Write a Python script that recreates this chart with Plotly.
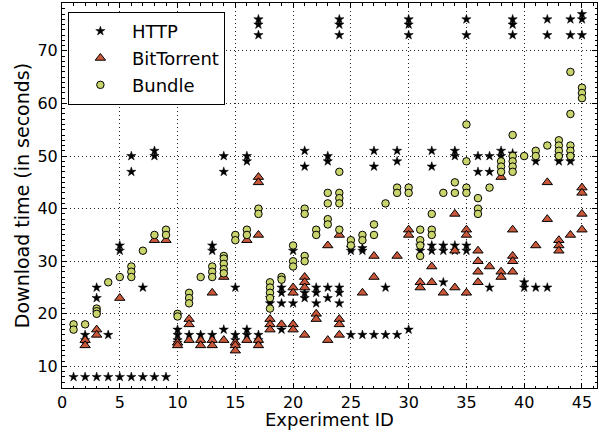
import plotly.graph_objects as go

experiments = list(range(1, 46))

http_times = [
    [8], [16, 15, 8], [25, 23, 8], [16, 8], [33, 32, 8], [50, 47, 8], [25, 8], [51, 50, 8], [8],
    [17, 16, 15, 14.5], [16], [16], [33, 32, 16], [50, 47, 17], [25, 16, 15], [50, 49, 17, 16],
    [76, 75, 73, 16, 15], [23, 22], [25, 24, 22, 17], [32, 22], [51, 48, 24, 23], [25, 24, 22],
    [50, 49, 25, 23], [76, 75, 73, 25, 24, 22], [32.5, 32, 16], [32.5, 32, 16], [51, 48, 16],
    [25, 16], [51, 49, 16], [76, 75, 73, 17], [33, 32], [51, 48, 33, 32], [33, 32, 26],
    [51, 50, 33, 32], [76, 73, 33, 32], [50, 47], [50, 47, 25], [51, 50], [76, 75, 73, 50.5],
    [26, 25], [49, 25], [76, 73, 25], [50, 49], [76, 73, 50, 49], [77, 76, 73],
]

bittorrent_times = [
    [], [15, 14], [17, 16], [], [23], [], [], [34], [34],
    [14.5, 14], [19, 18, 15], [15, 14], [24, 15, 14], [27, 15], [14.5, 14, 13], [34, 15],
    [46, 45, 35, 15, 14], [19, 18, 17], [18], [25, 24, 18, 17], [27, 26, 25, 16], [20, 19],
    [33, 15], [35, 19, 18, 16], [], [24], [31, 27], [], [31], [36, 35], [26, 25], [29, 26],
    [24], [39, 32, 25], [36, 35, 24], [32, 30, 28, 26], [29], [46, 28, 27], [36, 31, 30, 28],
    [], [33], [45, 38], [34, 33, 32], [35], [44, 43, 39, 36],
]

bundle_times = [
    [18, 17], [18], [21, 20.5, 20], [26], [27], [29, 28, 27], [32], [35], [36, 35],
    [20, 19.5], [24, 23, 22], [27], [29, 28, 27], [31, 30.5, 29.5, 28.5, 27.7], [35, 34], [36, 35],
    [40, 39], [26, 25, 24, 23, 21], [27, 26.5], [33, 30, 29], [40, 39, 31, 30], [36, 35],
    [43, 41, 38, 37], [47, 43, 42, 41, 36], [34, 33], [35, 34], [37, 35], [41], [44, 43],
    [44, 43], [36, 34, 33, 31], [39, 36, 35], [43], [45, 43], [56, 49, 44, 43], [42, 40, 39],
    [44], [49, 48, 47], [54, 50, 49, 48, 47], [50], [51, 50], [52], [53, 52, 51, 50],
    [66, 58, 52, 51, 50], [63, 62, 61],
]

series_names = ["HTTP", "BitTorrent", "Bundle"]
x_title = "Experiment ID"
y_title = "Download time (in seconds)"


def flatten(times):
    xs, ys = [], []
    for e, vals in zip(experiments, times):
        for v in vals:
            xs.append(e)
            ys.append(v)
    return xs, ys


FONT = "DejaVu Sans"
fig = go.Figure()

hx, hy = flatten(http_times)
bx, by = flatten(bittorrent_times)
ux, uy = flatten(bundle_times)

fig.add_trace(go.Scatter(x=hx, y=hy, mode="markers", name=series_names[0], legendgroup="a",
                         marker=dict(symbol="star", size=7, color="black",
                                     line=dict(color="black", width=0.5))))
fig.add_trace(go.Scatter(x=bx, y=by, mode="markers", name=series_names[1], legendgroup="b",
                         marker=dict(symbol="triangle-up", size=9, color="#c9573a",
                                     line=dict(color="black", width=1))))
fig.add_trace(go.Scatter(x=ux, y=uy, mode="markers", name=series_names[2], legendgroup="c",
                         marker=dict(symbol="circle", size=7.5, color="#c9d46c",
                                     line=dict(color="black", width=1))))

axis_common = dict(
    showline=True, linecolor="black", linewidth=1, mirror="allticks",
    ticks="inside", ticklen=5, tickcolor="black", tickwidth=1,
    showgrid=True, gridcolor="#222222", gridwidth=1, griddash="1px,3px",
    zeroline=False, automargin=False,
    tickfont=dict(family=FONT, size=16, color="black"),
    minor=dict(ticks="inside", ticklen=2.5, tickcolor="black", dtick=1, showgrid=False),
)

fig.update_layout(
    width=603, height=431,
    margin=dict(l=62, r=6, t=3, b=43),
    plot_bgcolor="white", paper_bgcolor="white",
    font=dict(family=FONT, color="black"),
    xaxis=dict(range=[0, 46.3], tick0=0, dtick=5, **axis_common),
    yaxis=dict(range=[5.9, 79.1], tick0=0, dtick=10,
               title=dict(text=y_title, font=dict(family=FONT, size=19), standoff=2),
               **axis_common),
    legend=dict(x=0.011, y=0.977, xanchor="left", yanchor="top",
                bgcolor="white", bordercolor="black", borderwidth=1,
                font=dict(family=FONT, size=18), itemwidth=53,
                tracegroupgap=0.5),
    showlegend=True,
    annotations=[dict(text=x_title, xref="paper", yref="paper", x=0.5, y=0,
                      xanchor="center", yanchor="bottom", yshift=-43, showarrow=False,
                      borderpad=0, font=dict(family=FONT, size=18, color="black"))],
)

fig.write_html("out.html", config={"displayModeBar": False},
               post_script="document.body.style.margin='0';")
